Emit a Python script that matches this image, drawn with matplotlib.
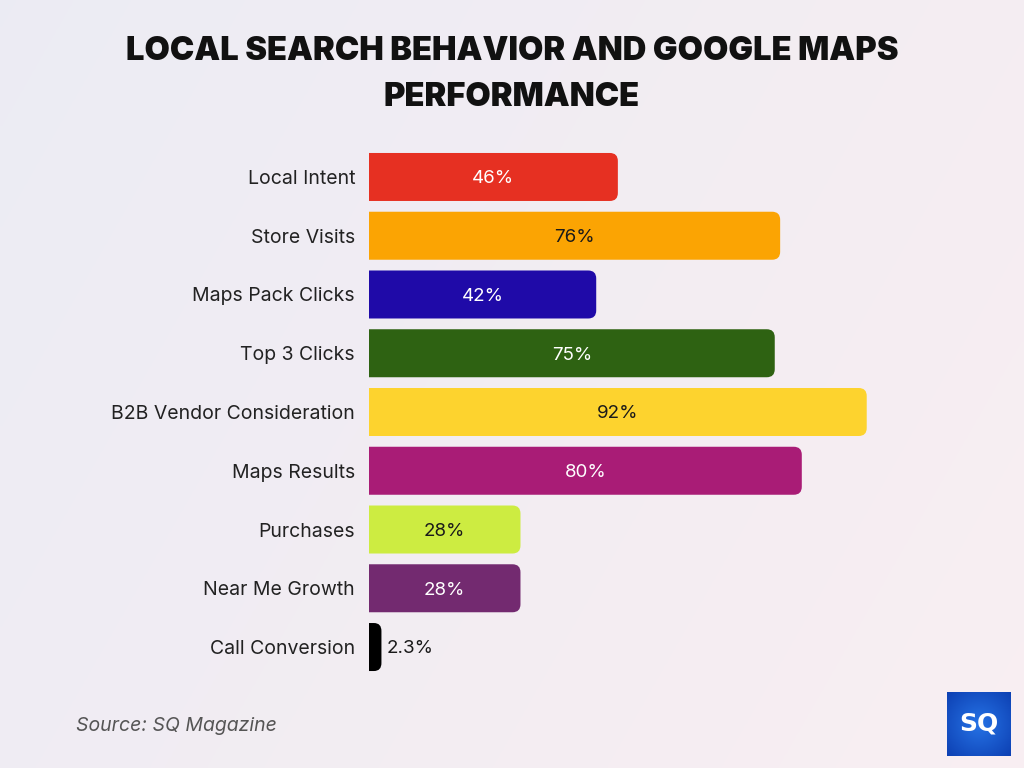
import matplotlib
matplotlib.use("Agg")
import matplotlib.pyplot as plt
import numpy as np
from matplotlib.patches import PathPatch
from matplotlib.path import Path

categories = ["Local Intent", "Store Visits", "Maps Pack Clicks", "Top 3 Clicks",
              "B2B Vendor Consideration", "Maps Results", "Purchases",
              "Near Me Growth", "Call Conversion"]
values = [46, 76, 42, 75, 92, 80, 28, 28, 2.3]
value_labels = ["46%", "76%", "42%", "75%", "92%", "80%", "28%", "28%", "2.3%"]
colors = ["#E63022", "#FBA403", "#1F0AA8", "#2E6212", "#FDD32E",
          "#A91C76", "#CDEC41", "#732A70", "#000000"]
text_colors = ["white", "#1a1a1a", "white", "white", "#1a1a1a",
               "white", "#1a1a1a", "white", "#1a1a1a"]

W, H = 1024, 768
fig = plt.figure(figsize=(W / 100, H / 100), dpi=100)

# background gradient
bg = fig.add_axes([0, 0, 1, 1], zorder=-10)
gx = np.linspace(0, 1, 256)
gy = np.linspace(0, 1, 256)
X, Y = np.meshgrid(gx, gy)
c1 = np.array([0.925, 0.925, 0.955])  # lavender left
c2 = np.array([0.975, 0.935, 0.950])  # pink right
t = np.clip(0.7 * X + 0.3 * (1 - Y), 0, 1)[..., None]
img = c1 * (1 - t) + c2 * t
bg.imshow(img, extent=[0, 1, 0, 1], aspect="auto", origin="lower")
bg.set_axis_off()

# main axes
left_px, right_px = 369, 369 + 541
top_px, bot_px = 147.6, 676.4
ax = fig.add_axes([left_px / W, (H - bot_px) / H, (right_px - left_px) / W, (bot_px - top_px) / H])
ax.set_xlim(0, 100)
ax.set_ylim(len(categories) - 0.5, -0.5)
ax.patch.set_alpha(0)
for s in ax.spines.values():
    s.set_visible(False)
ax.set_xticks([])
ax.set_yticks(range(len(categories)))
ax.set_yticklabels(categories, fontsize=14, color="#222222", family="Inter")
ax.tick_params(axis="y", length=0, pad=10)

px_per_x = (right_px - left_px) / 100.0
px_per_y = (bot_px - top_px) / len(categories)
bar_h = 48 / px_per_y
r_px = 8


def right_rounded(x0, y0, w, h, rx, ry):
    x1, y1 = x0 + w, y0 + h
    verts = [(x0, y0), (x1 - rx, y0), (x1, y0), (x1, y0 + ry),
             (x1, y1 - ry), (x1, y1), (x1 - rx, y1), (x0, y1), (x0, y0)]
    codes = [Path.MOVETO, Path.LINETO, Path.CURVE3, Path.CURVE3,
             Path.LINETO, Path.CURVE3, Path.CURVE3, Path.LINETO, Path.CLOSEPOLY]
    return Path(verts, codes)


for i, (v, c) in enumerate(zip(values, colors)):
    rx = min(r_px / px_per_x, v * 0.6)
    ry = r_px / px_per_y
    y0 = i - bar_h / 2
    ax.add_patch(PathPatch(right_rounded(0, y0, v, bar_h, rx, ry),
                           facecolor=c, edgecolor="none", zorder=2))
    if v > 10:
        ax.text(v / 2, i + 0.03, value_labels[i], ha="center", va="center", fontsize=13.5,
                color=text_colors[i], family="Inter", zorder=3)
    else:
        ax.text(v + 1, i + 0.03, value_labels[i], ha="left", va="center", fontsize=13.5,
                color=text_colors[i], family="Inter", zorder=3)

fig.text(0.5, 1 - 51 / H, "LOCAL SEARCH BEHAVIOR AND GOOGLE MAPS", ha="center", va="center",
         fontsize=23.5, fontweight="black", family="Inter", color="#111111")
fig.text(0.5, 1 - 97 / H, "PERFORMANCE", ha="center", va="center",
         fontsize=23.5, fontweight="black", family="Inter", color="#111111")

fig.text(76 / W, 1 - 726 / H, "Source: SQ Magazine", ha="left", va="center",
         fontsize=14, style="italic", color="#555555", family="Inter")

# logo
logo = fig.add_axes([947 / W, 1 - 756 / H, 64 / W, 64 / H])
logo.set_xlim(0, 1)
logo.set_ylim(0, 1)
lg = np.linspace(0, 1, 64)
LX, LY = np.meshgrid(lg, lg)
d = np.sqrt((LX - 0.5) ** 2 + (LY - 0.5) ** 2)[..., None]
inner = np.array([0.15, 0.45, 0.9])
outer = np.array([0.05, 0.25, 0.7])
limg = inner * (1 - d * 1.4) + outer * (d * 1.4)
logo.imshow(np.clip(limg, 0, 1), extent=[0, 1, 0, 1], aspect="auto")
logo.text(0.5, 0.5, "SQ", ha="center", va="center", color="white",
          fontsize=18, fontweight="bold", family="DejaVu Sans")
logo.set_axis_off()

fig.savefig("out.png", dpi=100)
